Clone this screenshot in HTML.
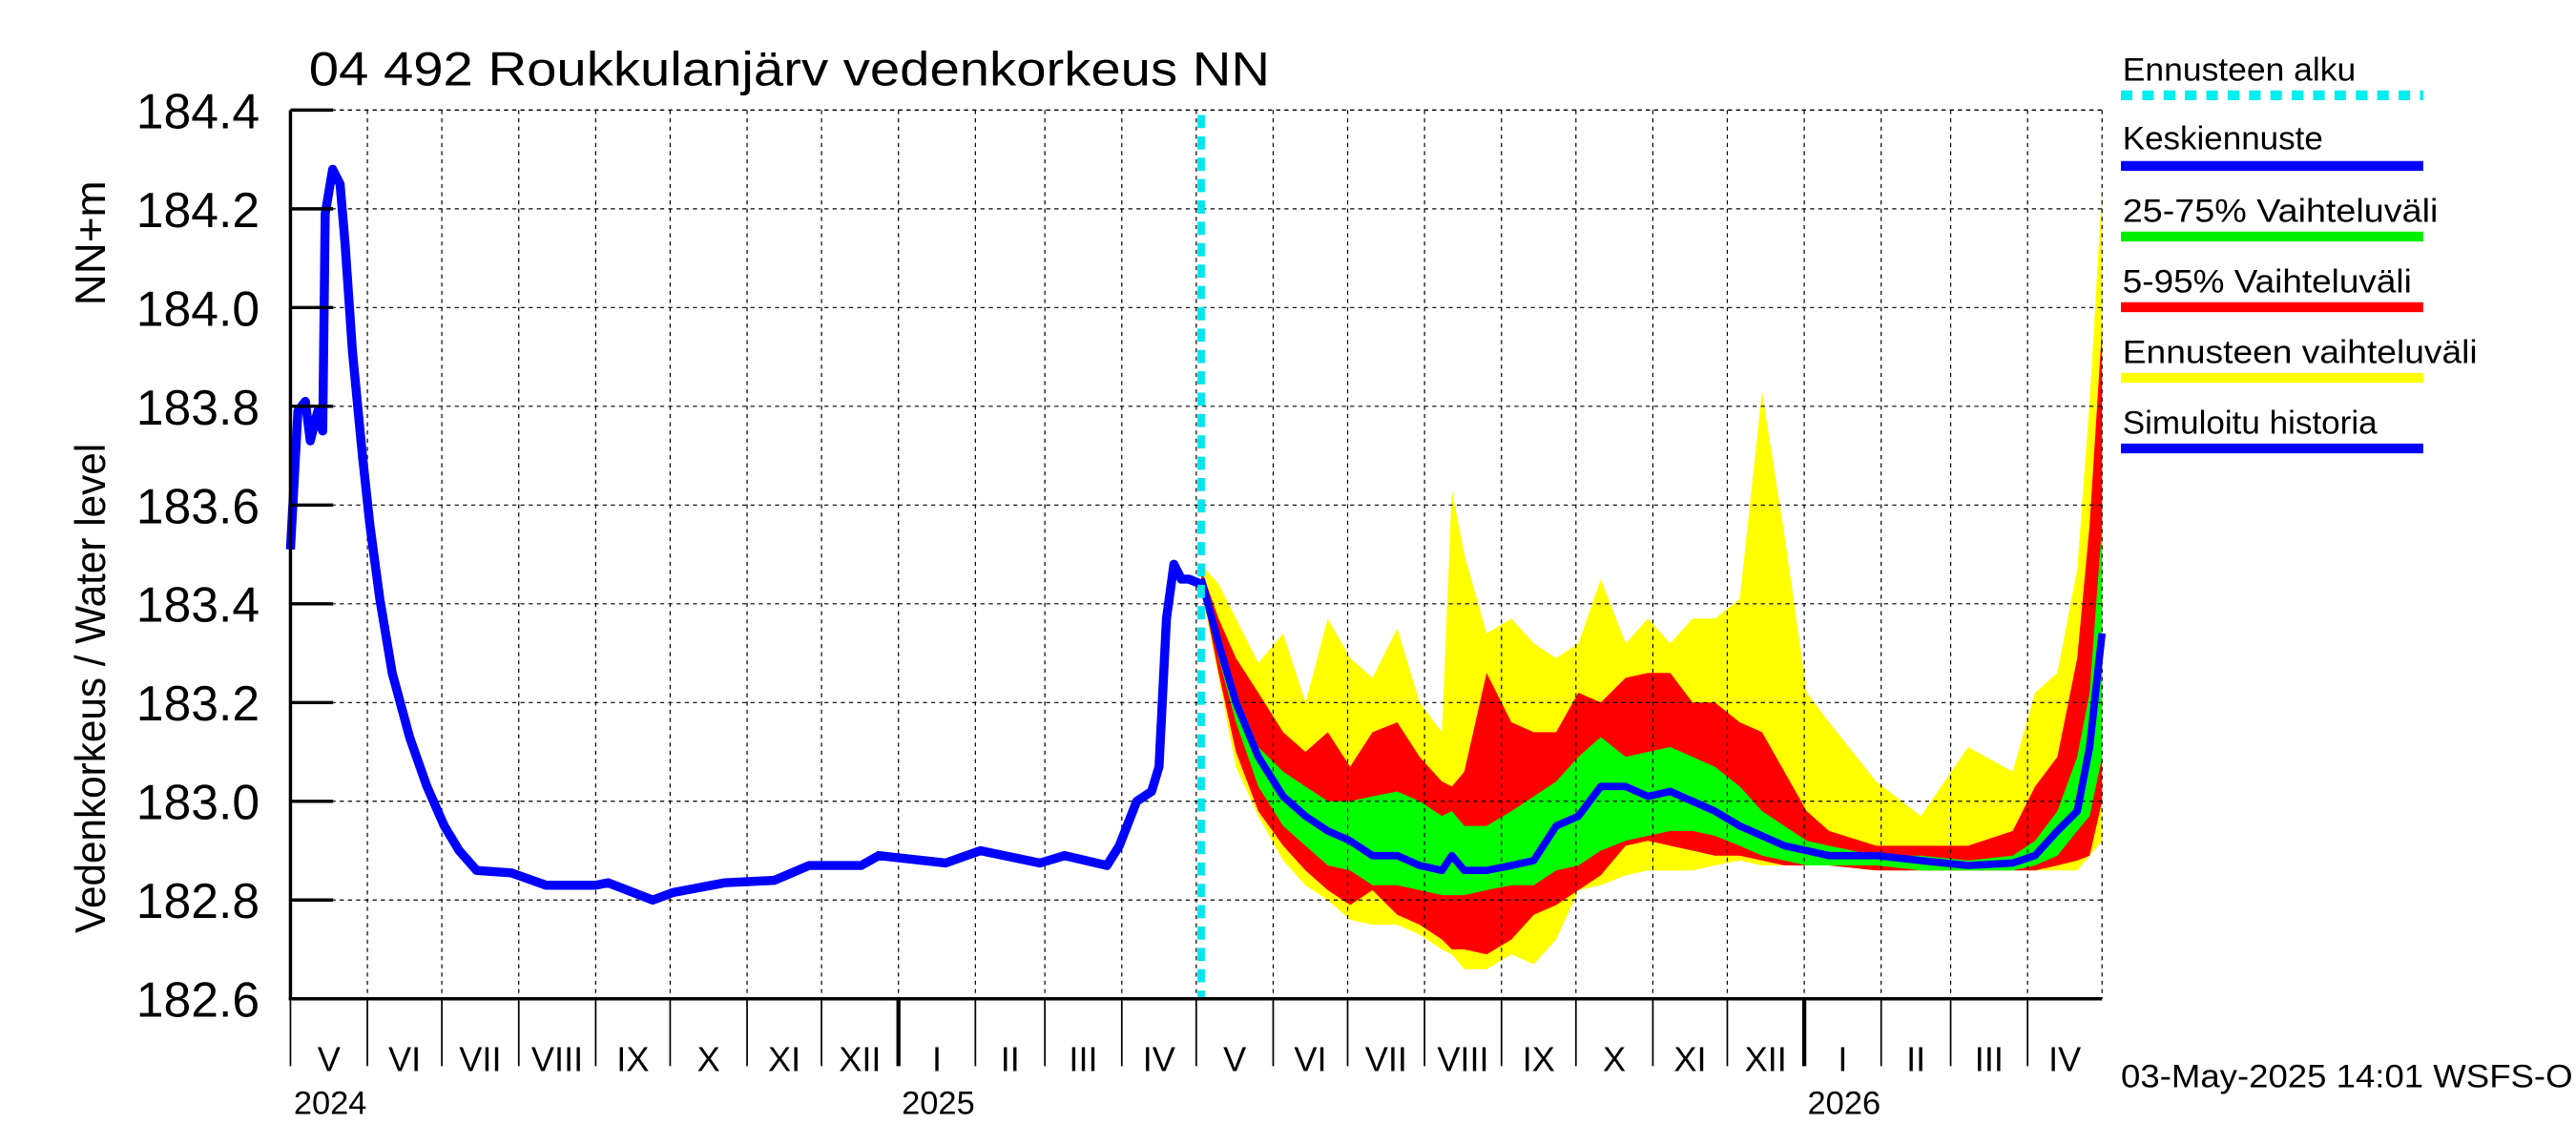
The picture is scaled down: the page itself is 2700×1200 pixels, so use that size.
<!DOCTYPE html>
<html><head><meta charset="utf-8"><style>
html,body{margin:0;padding:0;background:#fff;}
svg{display:block;font-family:"Liberation Sans",sans-serif;}
</style></head><body>
<svg id="chart" width="2700" height="1200" viewBox="0 0 1568 697" preserveAspectRatio="none" xmlns="http://www.w3.org/2000/svg">
<rect x="0" y="0" width="1568" height="697" fill="#fff"/>
<g id="bands"></g>
<g id="grid"></g>
<g id="lines"></g>
<g id="axes"></g>
<text x="188" y="52" font-size="29" textLength="585" lengthAdjust="spacingAndGlyphs">04 492 Roukkulanjärv vedenkorkeus NN</text>
<text transform="translate(64,568) rotate(-90)" font-size="26" textLength="298" lengthAdjust="spacingAndGlyphs">Vedenkorkeus / Water level</text>
<text transform="translate(64,186) rotate(-90)" font-size="26" textLength="76" lengthAdjust="spacingAndGlyphs">NN+m</text>
<g id="legend"></g>
<text x="1291" y="662" font-size="20" textLength="275" lengthAdjust="spacingAndGlyphs">03-May-2025 14:01 WSFS-O</text>
</svg>
<script>
// ---- data (days since 2024-05-01, water level m NN) ----
const histDays = [0,3,6,8,11,13,14,17,20,22,25,29,32,36,41,48,55,62,68,75,89,103,123,128,146,154,175,195,209,230,237,264,278,302,312,329,334,341,347,350,353,356,359,362,367];
const histVals = [183.51,183.79,183.81,183.73,183.79,183.75,184.19,184.28,184.25,184.13,183.91,183.70,183.56,183.41,183.26,183.13,183.03,182.95,182.90,182.86,182.855,182.83,182.83,182.835,182.80,182.815,182.835,182.84,182.87,182.87,182.89,182.875,182.90,182.875,182.89,182.87,182.91,183.00,183.02,183.07,183.37,183.48,183.45,183.45,183.44];
const fcDays = [367,374,381,390,400,409,418,427,436,446,455,464,468,473,482,492,501,510,519,528,538,547,556,565,574,584,593,602,611,620,639,657,676,694,703,712,720,725,730];
const fcMax = [183.48,183.44,183.37,183.28,183.34,183.20,183.37,183.29,183.25,183.35,183.20,183.14,183.63,183.50,183.34,183.37,183.32,183.29,183.32,183.45,183.32,183.37,183.32,183.37,183.37,183.41,183.83,183.54,183.22,183.16,183.04,182.97,183.11,183.06,183.22,183.26,183.47,183.81,184.24];
const fcP95 = [183.47,183.37,183.29,183.22,183.14,183.10,183.14,183.07,183.14,183.16,183.09,183.04,183.03,183.06,183.26,183.16,183.14,183.14,183.22,183.20,183.25,183.26,183.26,183.20,183.20,183.16,183.14,183.06,182.98,182.94,182.91,182.91,182.91,182.94,183.03,183.09,183.29,183.56,183.96];
const fcP75 = [183.45,183.34,183.22,183.11,183.06,183.03,183.00,183.00,183.01,183.02,183.00,182.97,182.98,182.95,182.95,182.98,183.01,183.04,183.09,183.13,183.09,183.10,183.11,183.09,183.07,183.03,182.98,182.95,182.92,182.91,182.89,182.89,182.88,182.89,182.92,182.98,183.09,183.22,183.56];
const fcMed = [183.45,183.32,183.20,183.09,183.01,182.97,182.94,182.92,182.89,182.89,182.87,182.86,182.89,182.86,182.86,182.87,182.88,182.95,182.97,183.03,183.03,183.01,183.02,183.00,182.98,182.95,182.93,182.91,182.90,182.89,182.89,182.88,182.87,182.875,182.89,182.94,182.98,183.11,183.34];
const fcP25 = [183.45,183.29,183.16,183.03,182.95,182.91,182.87,182.86,182.83,182.83,182.82,182.81,182.81,182.81,182.82,182.83,182.83,182.86,182.87,182.90,182.92,182.93,182.94,182.94,182.93,182.91,182.89,182.88,182.87,182.87,182.87,182.86,182.86,182.86,182.87,182.89,182.94,182.97,183.09];
const fcP5 = [183.44,183.26,183.10,182.98,182.91,182.86,182.82,182.79,182.82,182.77,182.75,182.72,182.70,182.70,182.69,182.72,182.77,182.79,182.82,182.85,182.91,182.92,182.91,182.90,182.89,182.89,182.88,182.87,182.87,182.87,182.86,182.86,182.86,182.86,182.86,182.87,182.88,182.89,183.00];
const fcMin = [183.43,183.25,183.07,182.97,182.88,182.83,182.80,182.76,182.75,182.75,182.73,182.70,182.69,182.66,182.66,182.69,182.67,182.72,182.82,182.83,182.85,182.86,182.86,182.86,182.87,182.88,182.87,182.87,182.87,182.87,182.86,182.86,182.86,182.86,182.86,182.86,182.86,182.89,182.92];
const yTicks = [182.6,182.8,183.0,183.2,183.4,183.6,183.8,184.0,184.2,184.4];
const monthNames = ["I","II","III","IV","V","VI","VII","VIII","IX","X","XI","XII"];
const yearLabels = ["2024","2025","2026"];
const forecastStartDay = 367;

// ---- scales ----
const X0=176.8, X1=1279.5, Y0=608, Y1=67, DMAX=730, VMIN=182.6, VMAX=184.4;
function xs(d){return X0+(X1-X0)*d/DMAX;}
function ys(v){return Y0-(Y0-Y1)*(v-VMIN)/(VMAX-VMIN);}
const NS="http://www.w3.org/2000/svg";
function el(tag,attrs,parent){const e=document.createElementNS(NS,tag);for(const k in attrs)e.setAttribute(k,attrs[k]);parent.appendChild(e);return e;}
const bands=document.getElementById('bands'),grid=document.getElementById('grid'),lines=document.getElementById('lines'),axes=document.getElementById('axes'),legend=document.getElementById('legend');

function band(top,bot,color,name){
  let p=top.map((v,i)=>xs(fcDays[i]).toFixed(2)+','+ys(v).toFixed(2));
  for(let i=bot.length-1;i>=0;i--)p.push(xs(fcDays[i]).toFixed(2)+','+ys(bot[i]).toFixed(2));
  const e=el('polygon',{points:p.join(' '),fill:color},bands);
  
  
}
band(fcMax,fcMin,'#ffff00','forecast-range-band');
band(fcP95,fcP5,'#ff0000','band-5-95');
band(fcP75,fcP25,'#00ff00','band-25-75');

yTicks.forEach(v=>{
  const y=ys(v);
  if(v>VMIN){const g=el('line',{x1:X0,x2:X1,y1:y,y2:y,stroke:'#000','stroke-width':0.7,'stroke-dasharray':'2.5,2.5'},grid);
  
  }
  const t=el('line',{x1:X0,x2:X0+26,y1:y,y2:y,stroke:'#000','stroke-width':2},axes);
  
  
  const tx=el('text',{x:158,y:y+11,'font-size':30,'text-anchor':'end'},axes);
  tx.textContent=v.toFixed(1);
  
  
});
const base=Date.UTC(2024,4,1);
let yi=0;
for(let m=0;m<24;m++){
  const d0=(Date.UTC(2024,4+m,1)-base)/864e5, d1=(Date.UTC(2024,5+m,1)-base)/864e5;
  const mon=(4+m)%12;
  const x=xs(d0);
  if(m>0){const g=el('line',{x1:x,x2:x,y1:Y1,y2:Y0,stroke:'#000','stroke-width':0.7,'stroke-dasharray':'2.5,2.5'},grid);
  
  }
  const isYear=mon===0;
  const t=el('line',{x1:x,x2:x,y1:Y0,y2:649,stroke:'#000','stroke-width':isYear?2.5:1},axes);
  
  
  const lb=el('text',{x:(x+xs(d1))/2,y:652,'font-size':21,'text-anchor':'middle'},axes);
  lb.textContent=monthNames[mon];
  
  
  if(m===0||isYear){
    const yl=el('text',{x:x+2,y:678,'font-size':20},axes);
    yl.textContent=yearLabels[yi++];
    
    
  }
}
const re=el('line',{x1:X1,x2:X1,y1:Y1,y2:Y0,stroke:'#000','stroke-width':0.7,'stroke-dasharray':'2.5,2.5'},grid);


const te=el('line',{x1:X0,x2:X1,y1:Y1,y2:Y1,stroke:'#000','stroke-width':0.7,'stroke-dasharray':'2.5,2.5'},grid);


const ax=el('line',{x1:X0,x2:X0,y1:Y1,y2:Y0+1,stroke:'#000','stroke-width':2},axes);


const bx=el('line',{x1:X0-1,x2:X1,y1:Y0,y2:Y0,stroke:'#000','stroke-width':2},axes);



const med=el('polyline',{points:fcDays.map((d,i)=>xs(d).toFixed(2)+','+ys(fcMed[i]).toFixed(2)).join(' '),fill:'none',stroke:'#0000ff','stroke-width':4.5,'stroke-linejoin':'round'},lines);


const hist=el('polyline',{points:histDays.map((d,i)=>xs(d).toFixed(2)+','+ys(histVals[i]).toFixed(2)).join(' '),fill:'none',stroke:'#0000ff','stroke-width':5.5,'stroke-linejoin':'round'},lines);


const fx=xs(forecastStartDay);
const fl=el('line',{x1:fx,x2:fx,y1:Y1+3,y2:Y0,stroke:'#00e5ee','stroke-width':4.5,'stroke-dasharray':'8,5'},lines);



const leg=[["Ennusteen alku","#00eeee",true,42,58,142],["Keskiennuste","#0000ff",false,84,101,122],["25-75% Vaihteluväli","#00ee00",false,128,144,192],["5-95% Vaihteluväli","#ff0000",false,171,187,176],["Ennusteen vaihteluväli","#ffff00",false,214,230,216],["Simuloitu historia","#0000ff",false,257,273,155]];
leg.forEach(l=>{
  const t=el('text',{x:1292,y:l[3]+7,'font-size':20,textLength:l[5],lengthAdjust:'spacingAndGlyphs'},legend);
  t.textContent=l[0];
  
  
  const a={x1:1291,x2:1475,y1:l[4],y2:l[4],stroke:l[1],'stroke-width':6};
  if(l[2])a['stroke-dasharray']='7,6';
  const s=el('line',a,legend);
  
  
});
</script>
</body></html>
